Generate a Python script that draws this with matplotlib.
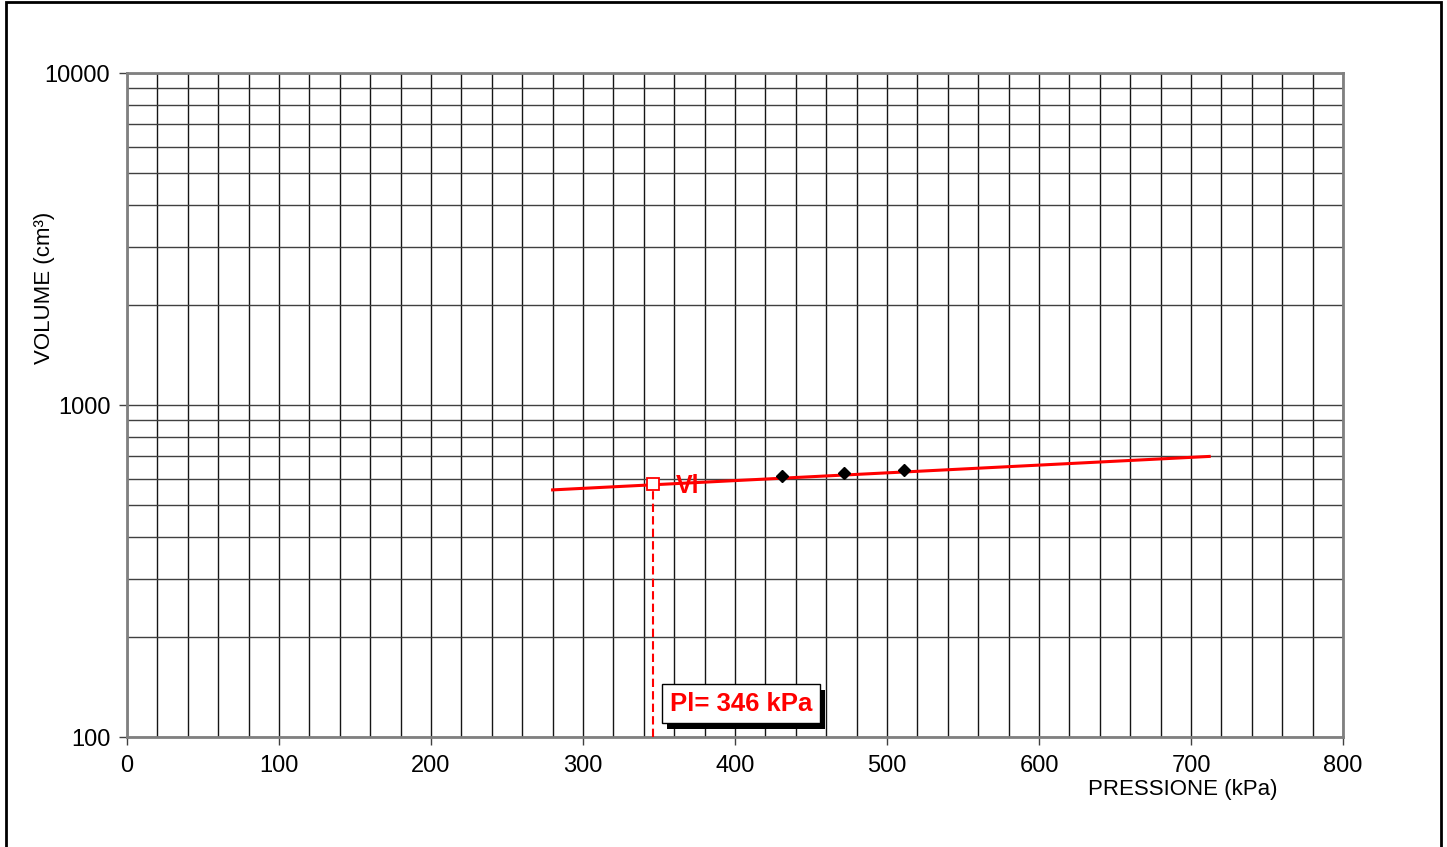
import matplotlib.pyplot as plt
import matplotlib.patches as patches
import matplotlib.patheffects as pe
from matplotlib.ticker import FixedLocator, LogLocator, NullFormatter

plt.rcParams['font.family'] = ['Liberation Sans', 'DejaVu Sans']

# fitted line (pressure kPa, volume cm3)
fit_p = [280, 712]
fit_v = [555, 700]

# measured points
pts_p = [431, 472, 511]
pts_v = [611, 624, 637]

# limit pressure
pl_p = 346
pl_v = 578
pl_text = 'Pl= 346 kPa'

xticks = [0, 100, 200, 300, 400, 500, 600, 700, 800]
yticks = [100, 1000, 10000]

fig = plt.figure(figsize=(14.47, 8.47), dpi=100)
ax = fig.add_axes([0.08777, 0.12987, 0.84036, 0.78394])

ax.set_yscale('log')
ax.set_xlim(0, 800)
ax.set_ylim(100, 10000)

ax.set_xticks(xticks)
ax.set_yticks(yticks)
ax.set_yticklabels([str(t) for t in yticks])
ax.xaxis.set_minor_locator(FixedLocator(list(range(0, 801, 20))))
ax.yaxis.set_minor_locator(LogLocator(base=10, subs=range(2, 10)))
ax.yaxis.set_minor_formatter(NullFormatter())
ax.tick_params(axis='both', which='major', labelsize=17, length=6, width=1, color='#404040', direction='out')
ax.tick_params(axis='both', which='minor', length=0)
ax.tick_params(axis='x', pad=7)
ax.tick_params(axis='y', pad=6)

ax.grid(True, which='both', axis='x', color='#151515', lw=1)
ax.grid(True, which='both', axis='y', color='#404040', lw=1)
ax.set_axisbelow(True)
for s in ax.spines.values():
    s.set_color('#808080')
    s.set_linewidth(2)

ax.plot(fit_p, fit_v, color='red', lw=2.2, zorder=3)
ax.plot(pts_p, pts_v, linestyle='none', marker='D', ms=6, color='black', zorder=4)

# Vl marker + dashed drop to the axis
ax.plot([pl_p, pl_p], [100, pl_v], color='red', lw=1.5, ls=(0, (4, 2)), zorder=3)
ax.plot([pl_p], [pl_v], linestyle='none', marker='s', ms=8, mfc='white', mec='red', mew=1.3, zorder=5)
ax.text(pl_p + 15, pl_v - 6, 'Vl', color='red', fontsize=18, fontweight='bold', va='center', ha='left', zorder=5)

# label box with shadow
t = ax.text(357, 126, pl_text, color='red', fontsize=18.5, fontweight='bold', va='center', ha='left', zorder=6,
            bbox=dict(boxstyle='square,pad=0.3', fc='white', ec='black', lw=1))
t.get_bbox_patch().set_path_effects([pe.SimplePatchShadow(offset=(4, -4), shadow_rgbFace='black', alpha=1),
                                     pe.Normal()])

fig.text(1183 / 1447, 1 - 789 / 847, 'PRESSIONE (kPa)', fontsize=16, ha='center', va='center')
fig.text(45 / 1447, 1 - 288 / 847, 'VOLUME (cm\u00b3)', fontsize=16, ha='center', va='center', rotation=90)

# outer frame
fig.patches.append(patches.Rectangle((5.5 / 1447, -0.01), 1435 / 1447, 1 - 2.5 / 847 + 0.01,
                                     transform=fig.transFigure, fill=False, ec='black', lw=2))

fig.savefig('out.png', dpi=100)
